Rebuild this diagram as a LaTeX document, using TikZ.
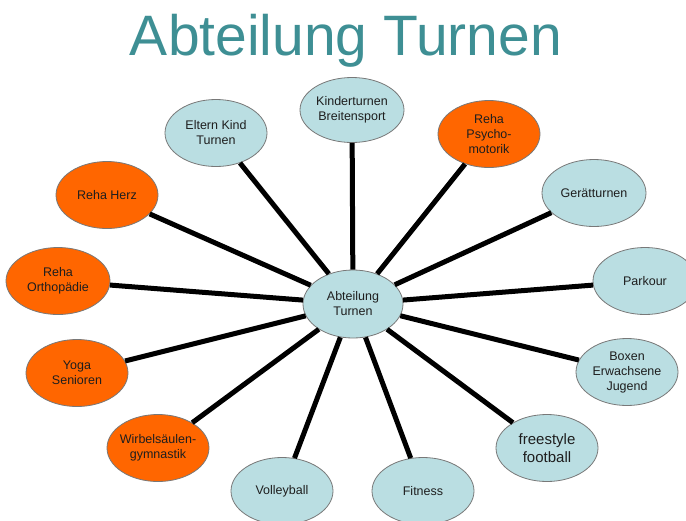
\documentclass[tikz,border=0pt]{standalone}
\usepackage{fontspec}
\setmainfont{Liberation Sans}
\usetikzlibrary{shapes.geometric}
\definecolor{titleteal}{RGB}{62,143,148}
\definecolor{bubblue}{RGB}{186,222,226}
\definecolor{buborange}{RGB}{255,102,0}
\definecolor{bubedge}{RGB}{120,120,120}
\definecolor{bubtext}{RGB}{30,30,30}
\tikzset{
  txt/.style={align=center, inner sep=0pt, text=bubtext, font=\fontsize{12.5pt}{15pt}\selectfont},
  bigtxt/.style={align=center, inner sep=0pt, text=bubtext, font=\fontsize{15pt}{18pt}\selectfont},
  bub/.style={ellipse, draw=bubedge, line width=0.8pt, minimum width=102pt, minimum height=67pt, inner sep=0pt},
  bluebub/.style={bub, fill=bubblue, label={[txt]center:{#1}}},
  orangebub/.style={bub, fill=buborange, label={[txt]center:{#1}}},
  spoke/.style={line width=5pt, black}
}
\begin{document}
\begin{tikzpicture}[x=1pt,y=-1pt]
\useasboundingbox (0,0) rectangle (686,520);
\node[anchor=base, text=titleteal, font=\fontsize{57pt}{60pt}\selectfont, inner sep=0pt] (title) at (346,55) {Abteilung Turnen};

\node[bluebub={Abteilung\\Turnen}, minimum width=100pt, minimum height=68pt] (hub) at (353,304) {};

\node[bluebub={Kinderturnen\\Breitensport}, minimum width=104pt, minimum height=65pt] (kb) at (352,110) {};
\node[bluebub={Eltern Kind\\Turnen}] (ek) at (216,133) {};
\node[orangebub={Reha Herz}] (rh) at (107,195) {};
\node[orangebub={Reha\\Orthopädie}, minimum width=104pt] (ro) at (58,281) {};
\node[orangebub={Yoga\\Senioren}] (ys) at (77,373) {};
\node[orangebub={Wirbelsäulen-\\gymnastik}] (wg) at (158,448) {};
\node[bluebub={Volleyball}] (vb) at (282,491) {};
\node[bluebub={Fitness}] (fi) at (423,491) {};
\node[bub, fill=bubblue, label={[bigtxt]center:{freestyle\\football}}] (ff) at (547,448) {};
\node[bluebub={Boxen\\Erwachsene\\Jugend}] (be) at (627,372) {};
\node[bluebub={Parkour}, minimum width=104pt] (pk) at (645,281) {};
\node[bluebub={Gerätturnen}, minimum width=104pt] (gt) at (594,193) {};
\node[orangebub={Reha\\Psycho-\\motorik}] (rp) at (489,134) {};

\foreach \n in {kb,ek,rh,ro,ys,wg,vb,fi,ff,be,pk,gt,rp}
  \draw[spoke] (hub) -- (\n);
\end{tikzpicture}
\end{document}
